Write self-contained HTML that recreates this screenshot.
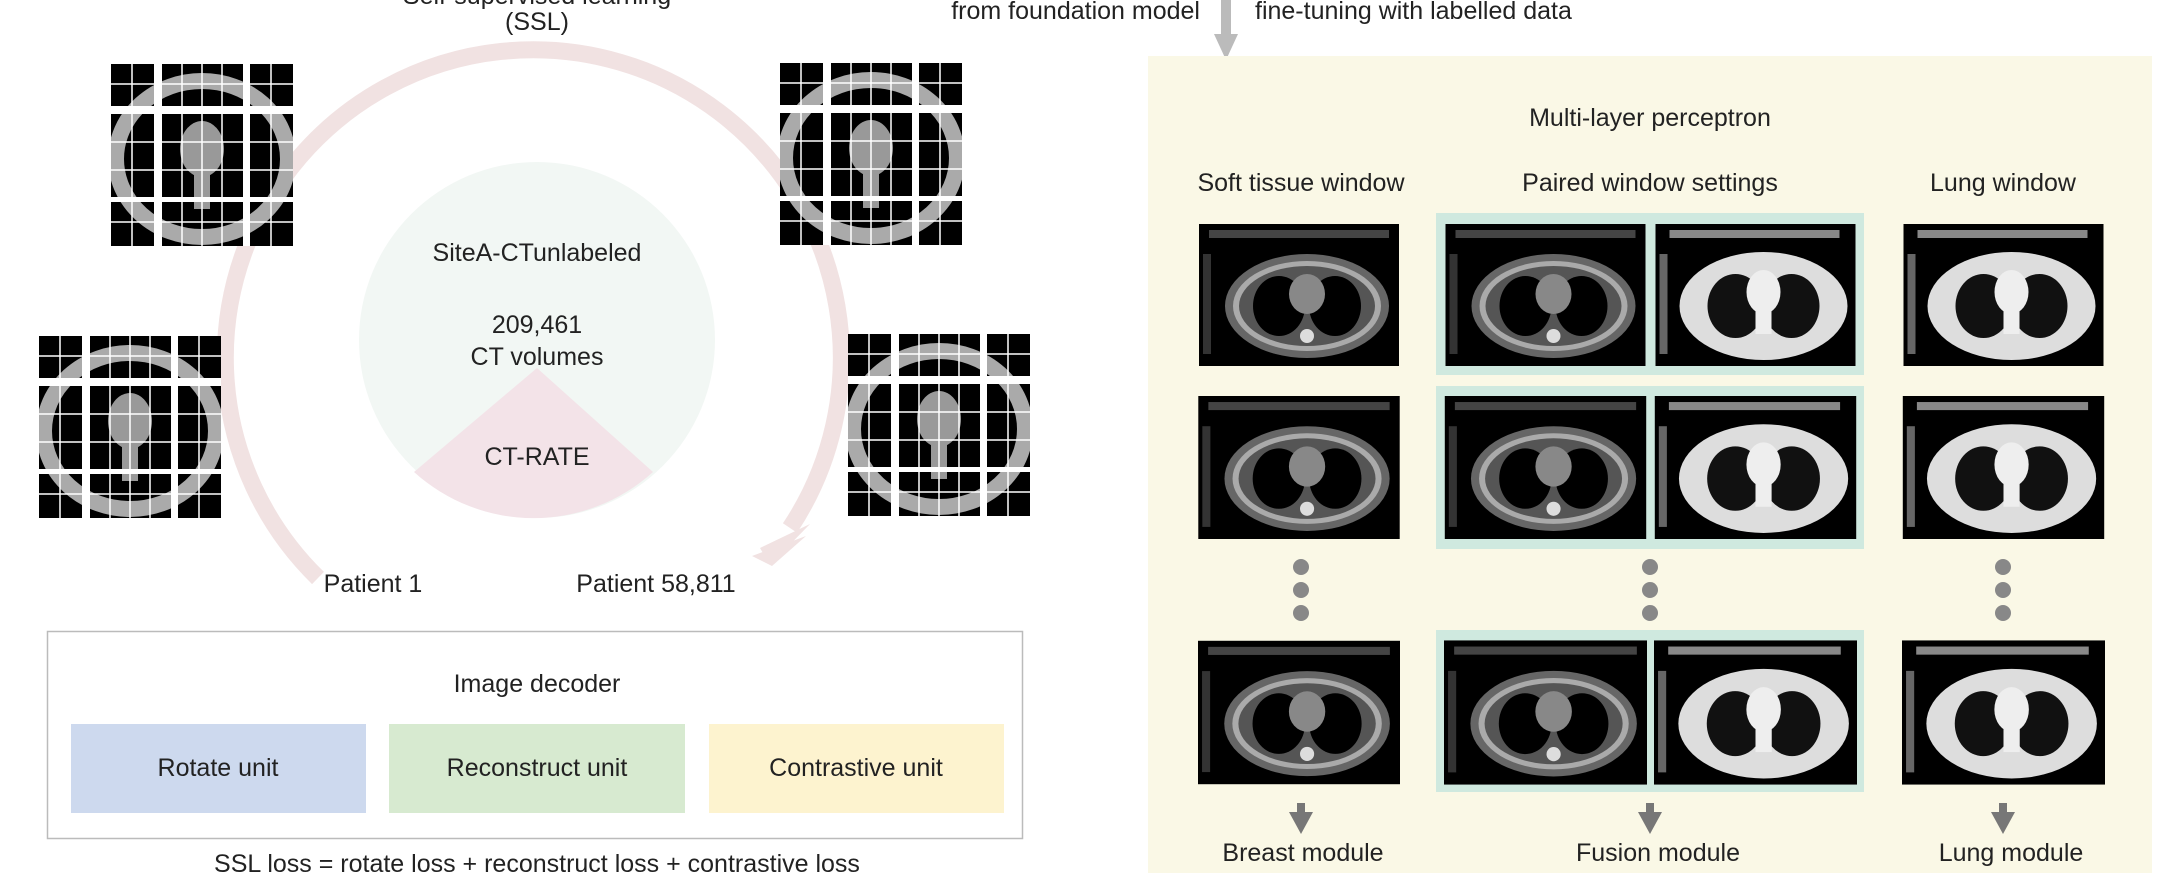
<!DOCTYPE html>
<html><head><meta charset="utf-8"><style>
html,body{margin:0;padding:0;background:#fff;}
svg{display:block;font-family:"Liberation Sans",sans-serif;}
</style></head><body>
<svg width="2168" height="894" viewBox="0 0 2168 894" xmlns="http://www.w3.org/2000/svg">
<defs>
  <symbol id="ctSoft" viewBox="0 0 200 142">
    <rect x="0" y="0" width="200" height="142" fill="#000"/>
    <rect x="10" y="6" width="180" height="8" fill="#444"/>
    <rect x="4" y="30" width="8" height="100" fill="#333"/>
    <ellipse cx="108" cy="82" rx="82" ry="52" fill="#666"/>
    <ellipse cx="108" cy="82" rx="74" ry="45" fill="#aaa"/>
    <ellipse cx="108" cy="82" rx="68" ry="40" fill="#555"/>
    <ellipse cx="80" cy="82" rx="26" ry="30" fill="#000"/>
    <ellipse cx="136" cy="82" rx="26" ry="30" fill="#000"/>
    <ellipse cx="108" cy="70" rx="18" ry="20" fill="#888"/>
    <circle cx="108" cy="112" r="7" fill="#ddd"/>
  </symbol>
  <symbol id="ctLung" viewBox="0 0 200 142">
    <rect x="0" y="0" width="200" height="142" fill="#000"/>
    <rect x="14" y="6" width="170" height="8" fill="#888"/>
    <rect x="4" y="30" width="8" height="100" fill="#666"/>
    <ellipse cx="108" cy="82" rx="84" ry="54" fill="#ddd"/>
    <ellipse cx="80" cy="82" rx="28" ry="32" fill="#111"/>
    <ellipse cx="136" cy="82" rx="28" ry="32" fill="#111"/>
    <ellipse cx="108" cy="68" rx="17" ry="22" fill="#eee"/>
    <rect x="100" y="80" width="16" height="30" fill="#eee"/>
  </symbol>
  <symbol id="cubes" viewBox="0 0 182 182">
    <rect width="182" height="182" fill="#000"/>
    <ellipse cx="91" cy="95" rx="86" ry="78" fill="none" stroke="#aaa" stroke-width="16"/>
    <ellipse cx="91" cy="85" rx="22" ry="28" fill="#999"/>
    <rect x="83" y="110" width="16" height="35" fill="#999"/>
    <rect x="43" y="0" width="8" height="182" fill="#fff"/>
    <rect x="132" y="0" width="7" height="182" fill="#fff"/>
    <rect x="0" y="42" width="182" height="8" fill="#fff"/>
    <rect x="0" y="133" width="182" height="5" fill="#fff"/>
    <g stroke="#fff" stroke-width="1.5">
      <line x1="21" y1="0" x2="21" y2="182"/><line x1="71" y1="0" x2="71" y2="182"/>
      <line x1="91" y1="0" x2="91" y2="182"/><line x1="111" y1="0" x2="111" y2="182"/>
      <line x1="160" y1="0" x2="160" y2="182"/>
      <line x1="0" y1="20" x2="182" y2="20"/><line x1="0" y1="78" x2="182" y2="78"/>
      <line x1="0" y1="106" x2="182" y2="106"/><line x1="0" y1="158" x2="182" y2="158"/>
    </g>
  </symbol>
</defs>

<!-- LEFT -->
<text x="537" y="4" font-size="25" fill="#222" text-anchor="middle">Self-supervised learning</text>
<text x="537" y="30" font-size="25" fill="#222" text-anchor="middle">(SSL)</text>

<path d="M 318 578 A 308 308 0 1 1 790 528" fill="none" stroke="#f1e2e2" stroke-width="17"/>
<polygon points="760,548 810,524 770,565" fill="#f1e2e2"/>
<polygon points="752,556 806,536 772,566" fill="#f1e2e2"/>

<circle cx="537" cy="340" r="178" fill="#f2f7f4"/>
<path d="M 537 368 L 414 472 A 178 178 0 0 0 653 472 Z" fill="#f3e3e8"/>
<text x="537" y="261" font-size="25" fill="#222" text-anchor="middle">SiteA-CTunlabeled</text>
<text x="537" y="333" font-size="25" fill="#222" text-anchor="middle">209,461</text>
<text x="537" y="365" font-size="25" fill="#222" text-anchor="middle">CT volumes</text>
<text x="537" y="465" font-size="25" fill="#222" text-anchor="middle">CT-RATE</text>

<use href="#cubes" x="111" y="64" width="182" height="182"/>
<use href="#cubes" x="780" y="63" width="182" height="182"/>
<use href="#cubes" x="39" y="336" width="182" height="182"/>
<use href="#cubes" x="848" y="334" width="182" height="182"/>

<text x="373" y="592" font-size="25" fill="#222" text-anchor="middle">Patient 1</text>
<text x="656" y="592" font-size="25" fill="#222" text-anchor="middle">Patient 58,811</text>

<rect x="47.5" y="631.5" width="975" height="207" fill="#fff" stroke="#bbb" stroke-width="1.5"/>
<text x="537" y="692" font-size="25" fill="#222" text-anchor="middle">Image decoder</text>
<rect x="71" y="724" width="295" height="89" fill="#cdd9ee"/>
<rect x="389" y="724" width="296" height="89" fill="#d7ead0"/>
<rect x="709" y="724" width="295" height="89" fill="#fdf3cf"/>
<text x="218" y="776" font-size="25" fill="#222" text-anchor="middle">Rotate unit</text>
<text x="537" y="776" font-size="25" fill="#222" text-anchor="middle">Reconstruct unit</text>
<text x="856" y="776" font-size="25" fill="#222" text-anchor="middle">Contrastive unit</text>
<text x="537" y="872" font-size="25" fill="#222" text-anchor="middle">SSL loss = rotate loss + reconstruct loss + contrastive loss</text>

<!-- RIGHT -->
<text x="1200" y="19" font-size="25" fill="#222" text-anchor="end">from foundation model</text>
<text x="1255" y="19" font-size="25" fill="#222">fine-tuning with labelled data</text>
<rect x="1221" y="0" width="10" height="36" fill="#bbb"/>
<polygon points="1214,34 1238,34 1226,60" fill="#bbb"/>

<rect x="1148" y="56" width="1004" height="817" fill="#faf8e6"/>
<text x="1650" y="126" font-size="25" fill="#222" text-anchor="middle">Multi-layer perceptron</text>
<text x="1301" y="191" font-size="25" fill="#222" text-anchor="middle">Soft tissue window</text>
<text x="1650" y="191" font-size="25" fill="#222" text-anchor="middle">Paired window settings</text>
<text x="2003" y="191" font-size="25" fill="#222" text-anchor="middle">Lung window</text>

<rect x="1436" y="213" width="428" height="162" fill="#cfe9df"/>
<rect x="1436" y="386" width="428" height="163" fill="#cfe9df"/>
<rect x="1436" y="630" width="428" height="162" fill="#cfe9df"/>

<g>
<use href="#ctSoft" x="1198" y="224" width="202" height="142"/>
<use href="#ctSoft" x="1198" y="396" width="202" height="143"/>
<use href="#ctSoft" x="1198" y="640" width="202" height="145"/>
<use href="#ctSoft" x="1444" y="224" width="203" height="142"/>
<use href="#ctSoft" x="1444" y="396" width="203" height="143"/>
<use href="#ctSoft" x="1444" y="640" width="203" height="145"/>
<use href="#ctLung" x="1654" y="224" width="203" height="142"/>
<use href="#ctLung" x="1654" y="396" width="203" height="143"/>
<use href="#ctLung" x="1654" y="640" width="203" height="145"/>
<use href="#ctLung" x="1902" y="224" width="203" height="142"/>
<use href="#ctLung" x="1902" y="396" width="203" height="143"/>
<use href="#ctLung" x="1902" y="640" width="203" height="145"/>
</g>

<g fill="#888">
<circle cx="1301" cy="567" r="8"/><circle cx="1301" cy="590" r="8"/><circle cx="1301" cy="613" r="8"/>
<circle cx="1650" cy="567" r="8"/><circle cx="1650" cy="590" r="8"/><circle cx="1650" cy="613" r="8"/>
<circle cx="2003" cy="567" r="8"/><circle cx="2003" cy="590" r="8"/><circle cx="2003" cy="613" r="8"/>
</g>
<g fill="#777">
<rect x="1297" y="803" width="8" height="14"/><polygon points="1289,812 1313,812 1301,834"/>
<rect x="1646" y="803" width="8" height="14"/><polygon points="1638,812 1662,812 1650,834"/>
<rect x="1999" y="803" width="8" height="14"/><polygon points="1991,812 2015,812 2003,834"/>
</g>
<text x="1303" y="861" font-size="25" fill="#222" text-anchor="middle">Breast module</text>
<text x="1658" y="861" font-size="25" fill="#222" text-anchor="middle">Fusion module</text>
<text x="2011" y="861" font-size="25" fill="#222" text-anchor="middle">Lung module</text>
</svg>
</body></html>
